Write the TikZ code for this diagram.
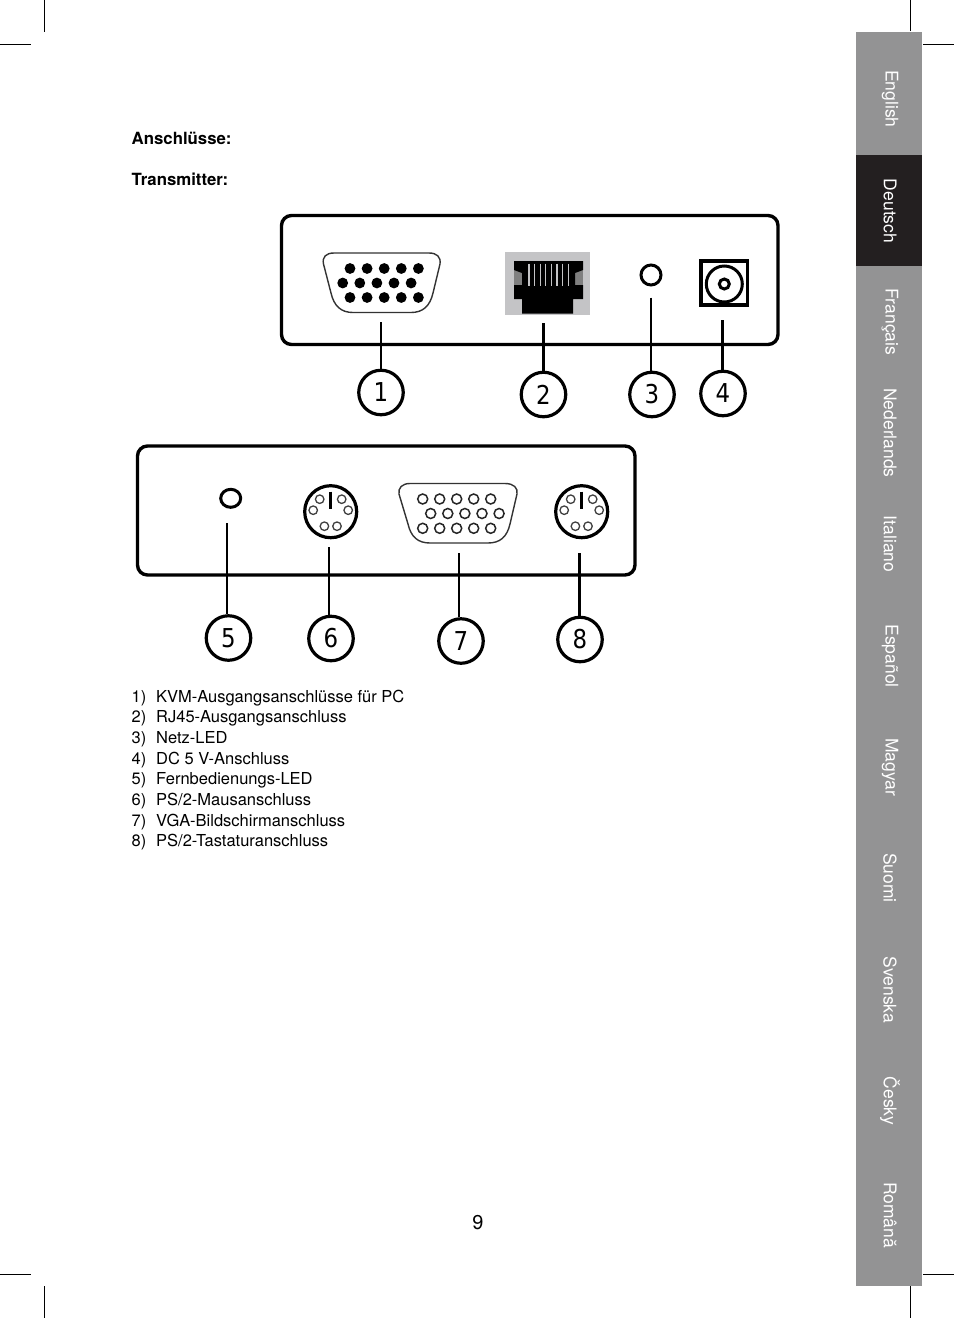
\documentclass[tikz,border=0pt]{standalone}
\usepackage{fontspec}
\setmainfont{TeX Gyre Heros}
\newfontfamily\numf[FakeStretch=0.88]{DejaVu Sans}
\tikzset{
  crop/.style={line width=0.9pt,black},
  tabtxt/.style={rotate=-90,text=white,font=\fontsize{17.5}{19}\selectfont,inner sep=0pt},
  leg/.style={anchor=base west,inner sep=0pt,font=\fontsize{16.5}{18}\selectfont},
  head/.style={anchor=base west,inner sep=0pt,font=\fontsize{16.8}{18}\selectfont\bfseries},
  casing/.style={draw=black,line width=3.4pt,rounded corners=10pt},
  numc/.style={circle,draw=black,line width=3.2pt,minimum size=44.5pt,inner sep=0pt,font=\fontsize{26}{28}\selectfont\numf},
  lead/.style={line width=2.5pt,black},
  vgash/.style={draw=black!80,line width=1.4pt,fill=white},
  hole/.style={circle,draw=black!75,line width=1.3pt,fill=white,minimum size=8.5pt,inner sep=0pt},
  holeb/.style={circle,draw=black!85,line width=1.5pt,fill=white,minimum size=10pt,inner sep=0pt},
  ledc/.style={draw=black,line width=3pt,fill=white}
}
\definecolor{tabgray}{RGB}{147,147,148}
\definecolor{tabdark}{RGB}{35,31,32}
\definecolor{rjgray}{RGB}{196,196,198}
\begin{document}
\begin{tikzpicture}[x=1pt,y=-1pt]
\useasboundingbox (0,0) rectangle (954,1318);
% crop marks
\draw[crop] (44,0)--(44,32) (0,44)--(31,44) (910.5,0)--(910.5,31) (923,44)--(954,44);
\draw[crop] (44,1286)--(44,1318) (0,1274.5)--(31,1274.5) (910.5,1286)--(910.5,1318) (923,1274.5)--(954,1274.5);
% tabs
\fill[tabgray] (856,32) rectangle (922,1286);
\fill[tabdark] (856,155) rectangle (922,266);
\foreach \n/\t/\yy in {a/English/99,b/Deutsch/211,c/Français/322,d/Nederlands/433,e/Italiano/544,f/Español/656,g/Magyar/767,h/Suomi/878,i/Svenska/990,j/Česky/1101,k/Română/1215}{
  \node[tabtxt] (tab\n) at (890,\yy) {\t};
}
% headings
\node[head] (h1) at (131.5,144.5) {Anschlüsse:};
\node[head] (h2) at (131.5,185.5) {Transmitter:};
% top casing
\draw[casing] (281.5,215.5) rectangle (778,344.5);
% VGA 1
\draw[vgash] (334,253) -- (429,253) .. controls (437,253) and (441,257) .. (440,264) -- (433,293) .. controls (430,306) and (423,312.5) .. (411,312.5) -- (353,312.5) .. controls (341,312.5) and (334,306) .. (331,293) -- (323.5,264) .. controls (322,257) and (326,253) .. (334,253) -- cycle;
\foreach \x in {0,1,2,3,4}{
  \fill (350+17.1*\x,268.5) circle (5.4pt);
  \fill (350+17.1*\x,297.5) circle (5.4pt);
  \fill (342.7+17.1*\x,283) circle (5.4pt);
}
% RJ45
\fill[rjgray] (505,252) rectangle (590,315);
\fill[black!50] (514,270) rectangle (583,285);
\fill[black] (514,261) -- (583,261) -- (583,270) -- (575,273) -- (575,285) -- (583,285) -- (583,299) -- (573,299) -- (573,313.5) -- (522,313.5) -- (522,299) -- (514,299) -- (514,285) -- (522,285) -- (522,273) -- (514,270) -- cycle;
\foreach \x in {0,...,7}{\draw[rjgray,line width=1.1pt] (529+5.6*\x,263.5)--(529+5.6*\x,286);}
% LED 3
\draw[ledc] (651,275) circle (10pt);
% DC
\draw[black,line width=3.4pt,fill=white] (701,261) rectangle (747.5,305);
\draw[black,line width=3pt] (724.3,284) circle (18pt);
\draw[black,line width=3pt] (724.3,284) circle (5pt);
% bottom casing
\draw[casing] (137.5,446) rectangle (635,575);
% LED 5
\draw[ledc] (230.7,498.3) ellipse (10pt and 9pt);
% mini din
\foreach \nm/\cx in {m/330.7,n/581.7}{
  \draw[black,line width=3.2pt,fill=white] (\cx,511.7) circle (26pt);
  \draw[black,line width=3.3pt] (\cx,491.5)--(\cx,509);
  \foreach \dx/\dy in {-11/-12.5,11/-12.5,-17.5/-1.5,17.5/-1.5,-6.3/14.5,6.3/14.5}{
    \node[hole] at (\cx+\dx,511.7+\dy) {};
  }
}
% VGA 7
\draw[vgash] (410,483.5) -- (505,483.5) .. controls (514,483.5) and (518,488) .. (517,494) -- (510,524) .. controls (507,537) and (500,543) .. (488,543) -- (430,543) .. controls (418,543) and (411,537) .. (408,524) -- (399,494) .. controls (398,488) and (402,483.5) .. (410,483.5) -- cycle;
\foreach \x in {0,1,2,3,4}{
  \node[holeb] at (422.7+17*\x,499) {};
  \node[holeb] at (422.7+17*\x,528.3) {};
  \node[holeb] at (430.7+17.1*\x,513.5) {};
}
% numbers
\node[numc] (n1) at (381,392.5) {1};
\node[numc] (n2) at (543.5,394.5) {2};
\node[numc] (n3) at (652,394.5) {3};
\node[numc] (n4) at (723,393.5) {4};
\node[numc] (n5) at (228.5,638) {5};
\node[numc] (n6) at (331,638.5) {6};
\node[numc] (n7) at (461,641) {7};
\node[numc] (n8) at (580,639.5) {8};
% leaders
\coordinate (t1) at (381,322);
\coordinate (t2) at (543.3,323);
\coordinate (t3) at (651,297.5);
\coordinate (t4) at (722.7,320);
\coordinate (t5) at (227,523);
\coordinate (t6) at (329,547);
\coordinate (t7) at (459,553);
\coordinate (t8) at (579.5,553);
\draw[lead] (t1)--(n1.north-|t1);
\draw[lead] (t2)--(n2.north-|t2);
\draw[lead] (t3)--(n3.north-|t3);
\draw[lead] (t4)--(n4.north-|t4);
\draw[lead] (t5)--(n5.north-|t5);
\draw[lead] (t6)--(n6.north-|t6);
\draw[lead] (t7)--(n7.north-|t7);
\draw[lead] (t8)--(n8.north-|t8);
% legend
\foreach \nm/\a/\b/\yy in {1/1)/KVM-Ausgangsanschlüsse für PC/702.5,2/2)/RJ45-Ausgangsanschluss/722.5,3/3)/Netz-LED/743.5,4/4)/DC 5 V-Anschluss/764.5,5/5)/Fernbedienungs-LED/784.5,6/6)/PS\slash 2-Mausanschluss/805.5,7/7)/VGA-Bildschirmanschluss/826,8/8)/PS\slash 2-Tastaturanschluss/846.5}{
  \node[leg] (la\nm) at (131.5,\yy) {\a};
  \node[leg] (lb\nm) at (156,\yy) {\b};
}
\node[anchor=base,inner sep=0pt,font=\fontsize{20}{22}\selectfont] (pg) at (478,1229.5) {9};
\end{tikzpicture}
\end{document}
